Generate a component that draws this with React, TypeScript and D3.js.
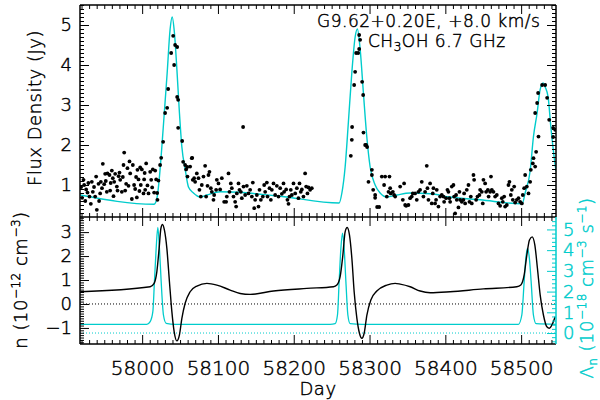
import React, { useRef, useEffect } from 'react'
import { select, scaleLinear, axisLeft, axisRight, axisTop, axisBottom, line, curveMonotoneX, range, format } from 'd3'

// measured flux densities [day, Jy]
const fluxObs = [
  [57922.6,1.13],[57923.5,1.0],[57926.1,0.89],[57927.9,0.81],[57930.5,0.71],[57932.3,0.53],[57933.6,1.08],[57934.9,0.83],
  [57938.0,0.71],[57939.3,1.21],[57940.2,0.38],[57942.4,1.03],[57944.6,0.79],[57945.5,1.08],[57948.1,1.53],[57949.9,1.02],
  [57951.2,1.28],[57953.4,0.83],[57954.3,1.29],[57956.9,1.25],[57957.8,0.86],[57960.0,1.36],[57961.3,1.17],[57963.1,1.08],
  [57964.4,1.28],[57966.6,0.96],[57967.5,0.86],[57970.1,1.31],[57971.0,1.13],[57973.2,0.83],[57975.4,1.5],[57976.3,1.81],
  [57977.6,0.86],[57978.9,1.03],[57980.6,1.42],[57983.3,1.59],[57984.2,1.29],[57986.4,0.65],[57987.7,1.5],[57989.4,1.0],
  [57990.8,0.9],[57993.0,0.69],[57993.8,1.38],[57995.2,1.14],[57997.4,1.44],[57998.2,1.0],[57999.6,1.39],[58001.8,0.79],
  [58002.6,1.14],[58004.0,0.88],[58005.3,1.54],[58007.0,0.99],[58008.4,0.79],[58010.6,1.33],[58011.9,1.13],[58013.2,0.94],
  [58014.1,1.39],[58015.8,0.81],[58017.2,1.36],[58018.5,1.14],[58020.2,0.63],[58021.5,1.11],[58023.7,1.5],
  [57919.5,0.95],[57920.8,0.68],[57925.0,0.6],[57929.0,1.05],[57936.5,0.95],[57943.2,0.6],[57947.0,0.92],[57952.0,1.1],
  [57958.5,1.05],[57962.2,0.72],[57969.0,1.22],[57974.5,1.2],[57982.0,0.98],[57992.0,1.2],[57996.4,0.85],[58003.3,1.3],
  [58019.8,0.8],[58025.1,1.68],[58027.7,2.08],[58030.3,2.8],[58033.0,2.93],[58034.3,3.4],[58038.3,4.3],[58040.9,4.73],
  [58042.2,4.0],[58043.5,4.5],[58046.2,4.45],[58046.2,3.2],[58047.5,3.13],[58047.5,2.43],[58052.8,2.1],[58054.1,1.58],
  [58056.7,1.5],[58059.4,1.45],[58066.0,1.68],
  [58058.0,1.39],[58059.8,1.21],[58063.3,1.46],[58065.5,1.67],[58066.8,1.13],[58068.6,1.17],[58069.9,1.08],[58072.1,1.29],
  [58074.3,1.17],[58075.6,0.88],[58077.4,0.71],[58078.7,1.0],[58080.9,1.21],[58083.1,1.48],[58084.4,0.71],[58086.2,0.98],
  [58087.5,1.25],[58088.8,1.33],[58090.6,0.92],[58091.9,0.83],[58094.1,0.63],[58095.0,0.75],[58097.6,0.88],[58098.5,1.13],
  [58100.7,1.04],[58102.9,0.89],[58105.1,1.17],[58108.2,0.58],[58110.8,0.58],[58111.7,0.71],[58113.9,1.29],[58115.2,0.83],
  [58117.0,1.04],[58118.3,0.92],[58120.5,0.71],[58122.7,0.58],[58124.0,0.46],[58124.9,0.79],[58127.1,1.04],[58128.4,0.88],
  [58130.2,0.83],[58131.5,0.67],[58133.2,2.45],[58133.7,0.96],[58135.9,0.75],[58138.1,0.98],[58140.3,0.79],[58142.5,0.88],
  [58144.7,0.71],[58146.0,1.06],[58147.8,0.42],[58149.1,0.63],[58151.3,0.75],[58153.5,0.46],[58154.8,0.88],[58156.6,0.63],
  [58159.2,0.71],[58161.0,1.0],[58162.3,0.83],[58164.5,1.06],[58165.4,0.71],[58168.0,0.92],[58169.8,0.63],[58171.1,0.88],
  [58173.3,1.04],[58175.5,0.75],[58177.7,0.98],[58179.9,0.71],[58182.1,0.92],[58184.3,0.78],[58186.5,1.04],[58187.3,0.83],
  [58190.0,0.89],[58191.7,0.63],[58193.1,0.53],[58194.4,0.71],[58196.1,0.88],[58197.5,0.75],[58199.7,1.04],[58201.9,0.79],
  [58204.1,0.92],[58206.2,0.67],[58207.6,1.04],[58209.3,0.83],[58210.7,0.89],[58212.8,0.71],[58215.0,1.29],[58216.4,0.96],
  [58218.1,0.79],[58219.5,0.94],[58221.6,0.88],[58223.8,0.92],
  [58275.3,1.73],[58276.6,2.13],[58277.0,2.45],[58279.7,3.5],[58281.0,3.83],[58282.3,4.3],[58285.0,4.3],[58286.3,4.75],
  [58286.3,4.4],[58287.6,4.63],[58290.2,3.58],[58291.6,3.25],[58292.0,2.31],[58294.2,2.0],[58295.5,2.0],[58296.8,1.95],
  [58298.6,1.08],[58303.1,1.38],[58303.1,1.25],[58304.8,0.88],[58307.4,0.75],[58307.4,0.68],[58310.0,0.45],[58312.7,0.45],
  [58316.2,1.21],[58319.2,1.0],[58320.6,1.21],[58322.8,0.71],[58325.0,0.83],[58326.3,1.21],[58327.2,0.92],[58328.0,0.79],
  [58330.7,0.83],[58332.4,0.75],[58333.8,0.71],[58340.4,0.96],[58343.9,0.63],[58345.6,1.04],[58347.0,0.5],[58348.3,0.48],
  [58351.3,0.5],[58353.5,0.67],[58355.7,0.71],[58357.1,0.79],[58360.1,0.79],[58362.3,0.63],[58364.5,0.83],[58366.7,0.88],
  [58368.9,1.08],[58371.1,0.71],[58373.3,0.83],[58375.5,1.48],[58376.4,0.92],[58377.7,0.63],[58379.9,1.04],[58382.1,0.54],
  [58383.4,0.79],[58384.3,0.92],[58386.5,0.54],[58387.8,0.63],[58388.7,0.88],[58390.9,0.46],[58393.1,0.71],[58395.3,0.75],
  [58397.5,0.71],[58398.4,0.58],[58401.0,0.67],[58402.8,0.88],[58404.1,0.83],[58405.4,0.67],[58406.3,0.58],[58408.5,0.96],
  [58410.7,1.0],[58411.6,0.71],[58412.9,0.29],[58414.2,0.75],[58415.1,0.63],[58417.3,0.44],[58418.6,0.83],[58419.5,0.63],
  [58421.7,0.58],[58423.9,0.63],[58424.8,0.79],[58426.1,0.54],[58428.3,0.88],[58430.5,1.0],[58431.8,0.58],[58433.6,0.71],
  [58434.9,0.54],[58437.1,1.25],[58438.0,1.13],[58440.6,0.63],[58442.4,0.71],[58445.0,0.75],[58445.9,0.88],[58448.1,0.83],
  [58449.4,0.54],[58450.3,1.13],[58452.5,1.04],[58453.8,0.83],[58456.1,0.88],[58457.1,0.71],[58459.1,0.83],[58460.2,1.21],
  [58461.3,0.88],[58463.5,0.83],[58465.7,0.71],[58467.9,0.75],[58470.1,0.54],[58472.3,0.48],[58474.5,0.67],[58475.8,0.58],
  [58477.6,0.71],[58478.9,0.46],[58481.1,0.5],[58483.3,1.0],[58484.6,1.08],[58486.4,0.75],[58487.7,0.88],[58489.0,0.63],
  [58490.8,0.96],[58492.1,0.56],[58494.3,0.63],[58496.5,0.67],[58498.7,0.58],[58500.9,0.54],[58502.2,0.75],[58504.0,0.92],
  [58505.3,1.25],[58507.5,0.96],[58509.7,0.79],[58511.9,1.08],[58512.8,1.38],[58515.4,1.54],[58516.3,1.67],[58518.5,1.46],
  [58519.8,1.83],[58522.9,2.21],
  [58518.5,2.8],[58521.1,3.05],[58522.4,3.3],[58527.7,3.5],[58531.7,3.5],[58534.3,3.18],[58537.0,2.63],[58542.2,2.43],
  [58542.2,2.2],[58544.9,2.38],
]

// model light curve [day, Jy]
const fluxModel = [
  [57918.2,0.75],[58015.8,0.52],[58019.8,0.7],[58023.7,1.4],[58027.7,2.4],[58033.0,3.8],[58036.9,4.9],[58039.6,5.2],
  [58042.6,4.8],[58045.8,3.9],[58049.2,2.8],[58052.4,1.95],[58056.7,1.4],[58061.1,0.95],[58067.7,0.8],[58076.5,0.7],
  [58085.4,0.75],[58102.9,0.83],[58129.3,0.82],[58155.7,0.77],[58182.1,0.72],[58259.9,0.55],[58263.5,0.8],[58267.8,1.45],
  [58272.2,2.6],[58276.6,3.8],[58281.0,4.7],[58284.0,4.9],[58287.6,4.4],[58291.9,3.3],[58296.4,2.2],[58300.8,1.45],
  [58307.4,1.0],[58314.0,0.8],[58322.8,0.7],[58336.0,0.75],[58353.6,0.8],[58380.0,0.78],[58406.3,0.7],[58445.9,0.63],
  [58501.3,0.53],[58505.3,0.8],[58511.9,1.35],[58516.2,2.2],[58521.1,2.8],[58525.0,3.38],[58529.0,3.55],[58531.7,3.45],
  [58535.6,3.2],[58539.2,2.45],[58544.9,1.5],[58546.0,1.35],
]

// density n [day, 1e-12 cm^-3]
const nCurve = [
  [57918.2,0.51],[58010.6,0.72],[58015.8,0.86],[58019.4,1.35],[58022.4,2.32],[58024.7,3.15],[58026.8,3.32],[58029.4,3.08],
  [58032.6,2.32],[58036.0,0.93],[58039.2,-0.32],[58042.2,-1.15],[58045.8,-1.54],[58049.2,-1.29],[58052.4,-0.6],[58056.7,0.03],
  [58063.3,0.51],[58072.2,0.75],[58085.4,0.86],[58098.6,0.79],[58116.1,0.58],[58129.3,0.44],[58142.5,0.40],[58173.2,0.54],
  [58217.3,0.65],[58252.4,0.72],[58256.9,0.79],[58261.2,1.14],[58264.8,2.04],[58267.8,3.01],[58270.5,3.19],[58273.5,2.88],
  [58276.7,1.9],[58279.7,0.51],[58283.3,-0.6],[58286.7,-1.22],[58289.9,-1.43],[58292.9,-1.22],[58296.5,-0.46],[58301.7,0.17],
  [58309.6,0.54],[58322.8,0.79],[58333.8,0.86],[58340.4,0.83],[58353.6,0.72],[58366.8,0.54],[58380.0,0.47],[58406.3,0.51],
  [58450.3,0.63],[58494.3,0.72],[58499.6,0.79],[58504.0,1.21],[58507.5,2.04],[58511.0,2.67],[58514.5,2.8],[58518.1,2.46],
  [58521.5,1.49],[58525.1,0.38],[58529.4,-0.46],[58533.9,-0.95],[58537.3,-1.01],[58540.5,-0.88],[58544.9,-0.53],
]

// pumping rate Lambda_n [day, 1e-18 cm^-3 s^-1]
const lamCurve = [
  [57918.0,0.42],[58006.2,0.42],[58010.6,0.55],[58014.1,1.03],[58016.2,2.48],[58018.5,4.09],[58020.7,5.1],[58022.8,4.09],
  [58025.1,2.48],[58028.1,0.87],[58031.7,0.47],[58043.5,0.42],[58248.0,0.42],[58254.6,0.45],[58257.7,0.87],[58259.9,2.48],
  [58262.2,4.09],[58264.3,4.82],[58266.5,4.09],[58268.8,2.48],[58271.4,0.87],[58274.4,0.45],[58290.0,0.42],[58496.4,0.42],
  [58500.9,0.87],[58504.0,2.48],[58506.2,3.6],[58508.3,4.09],[58510.9,3.6],[58513.2,2.48],[58516.2,0.87],[58519.8,0.45],
  [58546.0,0.42],
]

const dayTicks = [58000, 58100, 58200, 58300, 58400, 58500]
const fluxTicks = [1, 2, 3, 4, 5]
const nTicks = [-1, 0, 1, 2, 3]
const lamTicks = [0, 1, 2, 3, 4, 5]

const CYAN = '#00cccc'
const FONT = '"DejaVu Sans", sans-serif'
const WEIGHT = 200

const App = () => {
  const svgRef = useRef(null)

  useEffect(() => {
    const svg = select(svgRef.current)
    svg.selectAll('*').remove()

    const L = 80, R = 556, T = 5, MID = 217, B = 344

    const x = scaleLinear().domain([57918, 58546]).range([L, R])
    const yF = scaleLinear().domain([0.2, 5.5]).range([MID, T])
    const yN = scaleLinear().domain([-1.67, 3.63]).range([B, MID])
    const yL = scaleLinear().domain([-0.53, 5.6]).range([B, MID])

    const defs = svg.append('defs')
    defs.append('clipPath').attr('id', 'clipTop').append('rect')
      .attr('x', L).attr('y', T).attr('width', R - L).attr('height', MID - T)
    defs.append('clipPath').attr('id', 'clipBot').append('rect')
      .attr('x', L).attr('y', MID).attr('width', R - L).attr('height', B - MID)

    // top panel: model + data
    const top = svg.append('g').attr('clip-path', 'url(#clipTop)')
    top.append('path').datum(fluxModel)
      .attr('fill', 'none').attr('stroke', CYAN).attr('stroke-width', 1.4)
      .attr('d', line().x(d => x(d[0])).y(d => yF(d[1])).curve(curveMonotoneX))
    top.selectAll('circle').data(fluxObs).join('circle')
      .attr('cx', d => x(d[0])).attr('cy', d => yF(d[1])).attr('r', 1.9).attr('fill', 'black')

    // bottom panel
    const bot = svg.append('g').attr('clip-path', 'url(#clipBot)')
    bot.append('line').attr('x1', L).attr('x2', R).attr('y1', yN(0)).attr('y2', yN(0))
      .attr('stroke', 'black').attr('stroke-dasharray', '1,2')
    bot.append('line').attr('x1', L).attr('x2', R).attr('y1', yL(0)).attr('y2', yL(0))
      .attr('stroke', CYAN).attr('stroke-dasharray', '1,2')
    bot.append('path').datum(lamCurve)
      .attr('fill', 'none').attr('stroke', CYAN).attr('stroke-width', 1.3)
      .attr('d', line().x(d => x(d[0])).y(d => yL(d[1])).curve(curveMonotoneX))
    bot.append('path').datum(nCurve)
      .attr('fill', 'none').attr('stroke', 'black').attr('stroke-width', 1.4)
      .attr('d', line().x(d => x(d[0])).y(d => yN(d[1])).curve(curveMonotoneX))

    // thin hershey-like text: extra light face, darkened with a hairline stroke
    const ink = (sel, color) => sel.attr('fill', color).attr('stroke', color)
      .attr('stroke-width', 0.45).style('font-family', FONT).style('font-weight', WEIGHT)

    // axes helper, ticks point inward
    const addAxis = (make, scale, tr, vals, len, color, fmt, fs, pad) => {
      const ax = make(scale).tickValues(vals).tickSizeInner(-len).tickSizeOuter(0)
        .tickPadding(pad || 8).tickFormat(fmt || (() => ''))
      const g = svg.append('g').attr('transform', tr).call(ax)
      g.select('.domain').remove()
      g.selectAll('line').attr('stroke', color)
      ink(g.selectAll('text'), color).style('font-size', (fs || 18) + 'px')
    }
    const dayMinor = range(57920, 58550, 10).filter(d => d % 100 !== 0)
    const fluxMinor = range(3, 56).filter(i => i % 10 !== 0).map(i => i / 10)
    const nMinor = range(-16, 37).filter(i => i % 10 !== 0).map(i => i / 10)
    const lamMinor = range(-2, 28).filter(i => i % 5 !== 0).map(i => i / 5)
    const f = format('d')

    // top panel axes
    addAxis(axisLeft, yF, `translate(${L},0)`, fluxTicks, 9, 'black', f, 18, 8)
    addAxis(axisLeft, yF, `translate(${L},0)`, fluxMinor, 4, 'black')
    addAxis(axisRight, yF, `translate(${R},0)`, fluxTicks, 9, 'black')
    addAxis(axisRight, yF, `translate(${R},0)`, fluxMinor, 4, 'black')
    addAxis(axisTop, x, `translate(0,${T})`, dayTicks, 9, 'black')
    addAxis(axisTop, x, `translate(0,${T})`, dayMinor, 4, 'black')
    addAxis(axisBottom, x, `translate(0,${MID})`, dayTicks, 9, 'black')
    addAxis(axisBottom, x, `translate(0,${MID})`, dayMinor, 4, 'black')

    // bottom panel axes
    addAxis(axisLeft, yN, `translate(${L},0)`, nTicks, 9, 'black', f, 18, 8)
    addAxis(axisLeft, yN, `translate(${L},0)`, nMinor, 4, 'black')
    addAxis(axisRight, yL, `translate(${R},0)`, lamTicks, 9, CYAN, f, 18, 7)
    addAxis(axisRight, yL, `translate(${R},0)`, lamMinor, 4, CYAN)
    addAxis(axisTop, x, `translate(0,${MID})`, dayTicks, 9, 'black')
    addAxis(axisTop, x, `translate(0,${MID})`, dayMinor, 4, 'black')
    addAxis(axisBottom, x, `translate(0,${B})`, dayTicks, 9, 'black', f, 20, 17)
    addAxis(axisBottom, x, `translate(0,${B})`, dayMinor, 4, 'black')

    // frames
    const edge = (x1, y1, x2, y2, c) => svg.append('line')
      .attr('x1', x1).attr('y1', y1).attr('x2', x2).attr('y2', y2)
      .attr('stroke', c).attr('stroke-width', 1.5)
    edge(L, T, R, T, 'black'); edge(L, T, L, B, 'black'); edge(R, T, R, MID, 'black')
    edge(L, MID, R, MID, 'black'); edge(L, B, R, B, 'black'); edge(R, MID, R, B, CYAN)

    // labels
    const txt = (tr, color, fs) => ink(svg.append('text').attr('transform', tr), color)
      .style('font-size', fs + 'px').attr('text-anchor', 'middle').style('letter-spacing', '0.5px')
    const sup = (t, s, dy) => {
      t.append('tspan').attr('dy', -dy).style('font-size', '12px').text(s)
      return t.append('tspan').attr('dy', dy)
    }

    txt('translate(41,108) rotate(-90)', 'black', 18).text('Flux Density (Jy)')

    const nl = txt('translate(27,280) rotate(-90)', 'black', 18)
    nl.append('tspan').text('n (10')
    sup(nl, '\u221212', 7).text(' cm')
    sup(nl, '\u22123', 7).text(')')

    const ll = txt('translate(593,288) rotate(-90)', CYAN, 18)
    ll.append('tspan').text('\u039B')
    ll.append('tspan').attr('dy', 4).style('font-size', '12px').text('n')
    ll.append('tspan').attr('dy', -4).text(' (10')
    sup(ll, '\u221218', 7).text(' cm')
    sup(ll, '\u22123', 7).text(' s')
    sup(ll, '\u22121', 7).text(')')

    txt('translate(318,395)', 'black', 18).text('Day')

    ink(svg.append('text').attr('x', 317).attr('y', 27), 'black')
      .style('font-size', '17px').style('letter-spacing', '0.5px')
      .text('G9.62+0.20E, +8.0 km/s')
    const t2 = ink(svg.append('text').attr('x', 368).attr('y', 47), 'black')
      .style('font-size', '17px').style('letter-spacing', '0.5px')
    t2.append('tspan').text('CH')
    t2.append('tspan').attr('dy', 4).style('font-size', '12px').text('3')
    t2.append('tspan').attr('dy', -4).text('OH 6.7 GHz')
  }, [])

  return (
    <svg ref={svgRef} width={600} height={400}
      style={{ position: 'absolute', left: 0, top: 0, background: 'white' }} />
  )
}

export default App
